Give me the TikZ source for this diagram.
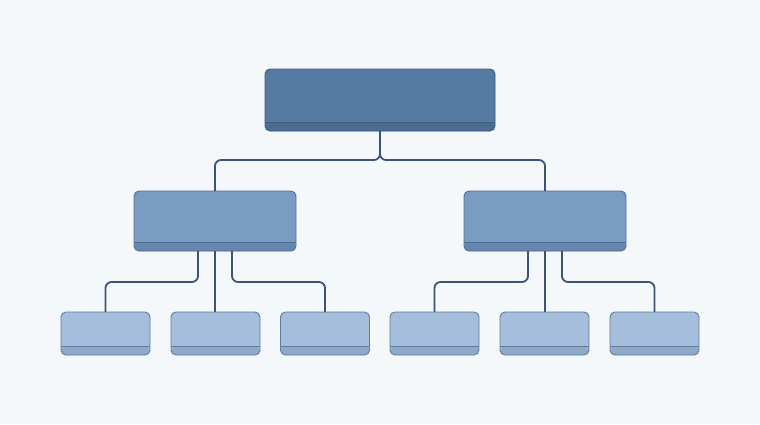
\documentclass[tikz,border=0pt]{standalone}
\usetikzlibrary{calc}
\definecolor{bg}{HTML}{F5F8FB}
\definecolor{topfill}{HTML}{557BA2}
\definecolor{topband}{HTML}{4A6C91}
\definecolor{topedge}{HTML}{3E5D7F}
\definecolor{midfill}{HTML}{7B9CC2}
\definecolor{midband}{HTML}{6786AE}
\definecolor{midedge}{HTML}{4F6E93}
\definecolor{leaffill}{HTML}{A4BEDB}
\definecolor{leafband}{HTML}{8FA9C9}
\definecolor{leafedge}{HTML}{5E7C9F}
\definecolor{conncol}{HTML}{3A5475}
\tikzset{
  boxbase/.style n args={5}{draw=#3, line width=0.9pt, fill=#1, rounded corners=5pt,
    minimum width=#4, minimum height=#5, inner sep=0pt, outer sep=0pt,
    path picture={
      \fill[#2] ($(path picture bounding box.south west)+(0,-9)$) rectangle (path picture bounding box.south east);
      \draw[#3, line width=0.9pt] ($(path picture bounding box.south west)+(0,-9)$) -- ($(path picture bounding box.south east)+(0,-9)$);
    }},
  topbox/.style={boxbase={topfill}{topband}{topedge}{230pt}{62pt}},
  midbox/.style={boxbase={midfill}{midband}{midedge}{162pt}{60pt}},
  leafbox/.style={boxbase={leaffill}{leafband}{leafedge}{89pt}{43pt}},
  conn/.style={draw=conncol, line width=1.8pt, rounded corners=6pt},
}
\begin{document}
\begin{tikzpicture}[x=1pt,y=-1pt]
\fill[bg] (0,0) rectangle (760,424);
\useasboundingbox (0,0) rectangle (760,424);

\node[topbox] (top) at (380,100) {};
\node[midbox] (ml) at (215,221) {};
\node[midbox] (mr) at (545,221) {};

\node[leafbox] (l1) at (105.5,333.5) {};
\node[leafbox] (l2) at (215.5,333.5) {};
\node[leafbox] (l3) at (325,333.5) {};
\node[leafbox] (l4) at (434.5,333.5) {};
\node[leafbox] (l5) at (544.5,333.5) {};
\node[leafbox] (l6) at (654.5,333.5) {};

\coordinate (tj) at (380,160);
\draw[conn] (top.south) -- (tj) -| (ml.north);
\draw[conn] (top.south) -- (tj) -| (mr.north);

\draw[conn] ([xshift=-17pt]ml.south) -- ++(0,31) -| (l1.north);
\draw[conn] (ml.south) -- (ml.south |- l2.north);
\draw[conn] ([xshift=17pt]ml.south) -- ++(0,31) -| (l3.north);
\draw[conn] ([xshift=-17pt]mr.south) -- ++(0,31) -| (l4.north);
\draw[conn] (mr.south) -- (mr.south |- l5.north);
\draw[conn] ([xshift=17pt]mr.south) -- ++(0,31) -| (l6.north);
\end{tikzpicture}
\end{document}
